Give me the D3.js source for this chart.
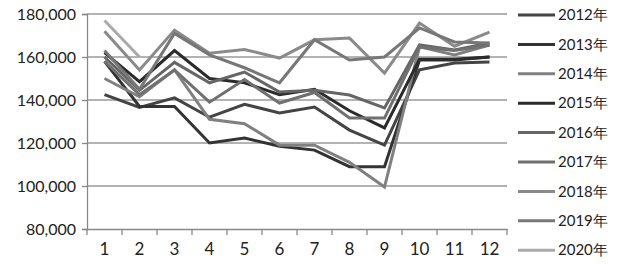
<!DOCTYPE html>
<html>
<head>
<meta charset="utf-8">
<script src="https://cdn.jsdelivr.net/npm/d3@7"></script>
<style>
  body { margin: 0; background: #fff; }
  text { font-family: Lato, "Open Sans", sans-serif; fill: #222; }
</style>
</head>
<body>
<div id="chart"></div>
<script>
var months = ["1", "2", "3", "4", "5", "6", "7", "8", "9", "10", "11", "12"];
var yTicks = [80000, 100000, 120000, 140000, 160000, 180000];
var years = ["2012年", "2013年", "2014年", "2015年", "2016年", "2017年", "2018年", "2019年", "2020年"];

var v2012 = [142500, 136500, 141000, 132000, 138000, 134000, 136700, 126000, 119000, 154000, 157200, 157700];
var v2013 = [158000, 137000, 137000, 120000, 122300, 118500, 116700, 109000, 109000, 158600, 158600, 160000];
var v2014 = [150000, 141500, 154000, 131000, 129000, 119000, 119000, 111000, 99500, 164700, 161000, 165600];
var v2015 = [162000, 148500, 163000, 150000, 148000, 142500, 145000, 135000, 127000, 159000, 159000, 160000];
var v2016 = [160000, 144500, 157500, 148000, 153000, 143700, 144500, 142300, 136300, 165600, 163300, 166500];
var v2017 = [158000, 142500, 154000, 139000, 149500, 138600, 143500, 131600, 131600, 164700, 163000, 165600];
var v2018 = [172000, 154000, 172500, 161800, 163500, 159500, 168000, 168800, 152500, 175800, 165000, 171600];
var v2019 = [163000, 145000, 171000, 161000, 155000, 148000, 168000, 158600, 160000, 173500, 167000, 166500];
var v2020 = [177000, 160000];

var series = [v2012, v2013, v2014, v2015, v2016, v2017, v2018, v2019, v2020];
var colors = ["#444", "#333", "#808080", "#2b2b2b", "#666", "#707070", "#8a8a8a", "#777", "#aaa"];

var width = 620, height = 268;
var plotLeft = 87, plotRight = 507, plotTop = 14, plotBottom = 229;

var svg = d3.select("#chart")
    .append("svg")
    .attr("width", width)
    .attr("height", height);

var x = d3.scaleBand()
    .domain(months)
    .range([plotLeft, plotRight]);

var y = d3.scaleLinear()
    .domain([80000, 180000])
    .range([plotBottom, plotTop]);

// grid
svg.selectAll("line.grid")
    .data(yTicks.slice(1))
    .enter()
    .append("line")
    .attr("class", "grid")
    .attr("x1", plotLeft)
    .attr("x2", plotRight)
    .attr("y1", function(d){return y(d)})
    .attr("y2", function(d){return y(d)})
    .attr("stroke", "#9a9a9a")
    .attr("stroke-width", 1.5);

// y axis
var yAxis = svg.append("g")
    .attr("transform", "translate(" + plotLeft + ",0)")
    .call(d3.axisLeft(y).tickValues(yTicks).tickSize(5).tickPadding(6).tickFormat(d3.format(",")));
yAxis.selectAll("line, path").attr("stroke", "#888").attr("stroke-width", 1.3);
yAxis.selectAll("text").style("font-size", "16px").attr("fill", "#222");

// x axis
var xAxis = svg.append("g")
    .attr("transform", "translate(0," + plotBottom + ")")
    .call(d3.axisBottom(x).tickSize(0).tickPadding(14));
xAxis.select("path").attr("stroke", "#888").attr("stroke-width", 1.3);
xAxis.selectAll("text").style("font-size", "17px").attr("fill", "#222");

svg.append("g")
    .selectAll("line")
    .data(months.concat(["end"]))
    .enter()
    .append("line")
    .attr("x1", function(d, i){return plotLeft + i * x.step()})
    .attr("x2", function(d, i){return plotLeft + i * x.step()})
    .attr("y1", plotBottom)
    .attr("y2", plotBottom + 6)
    .attr("stroke", "#888")
    .attr("stroke-width", 1.3);

// lines
var line = d3.line()
    .x(function(d, i){return x(months[i]) + x.bandwidth() / 2})
    .y(function(d){return y(d)});

svg.selectAll("path.series")
    .data(series)
    .enter()
    .append("path")
    .attr("class", "series")
    .attr("d", line)
    .attr("fill", "none")
    .attr("stroke", function(d, i){return colors[i]})
    .attr("stroke-width", 3)
    .attr("stroke-linejoin", "miter");

// legend
var legend = svg.selectAll("g.legend")
    .data(years)
    .enter()
    .append("g")
    .attr("class", "legend")
    .attr("transform", function(d, i){return "translate(518," + (15 + i * 29.4) + ")"});

legend.append("line")
    .attr("x1", 0)
    .attr("x2", 37)
    .attr("stroke", function(d, i){return colors[i]})
    .attr("stroke-width", 3);

legend.append("text")
    .attr("x", 40)
    .attr("dy", "0.35em")
    .style("font-size", "15px")
    .text(function(d){return d});
</script>
</body>
</html>
